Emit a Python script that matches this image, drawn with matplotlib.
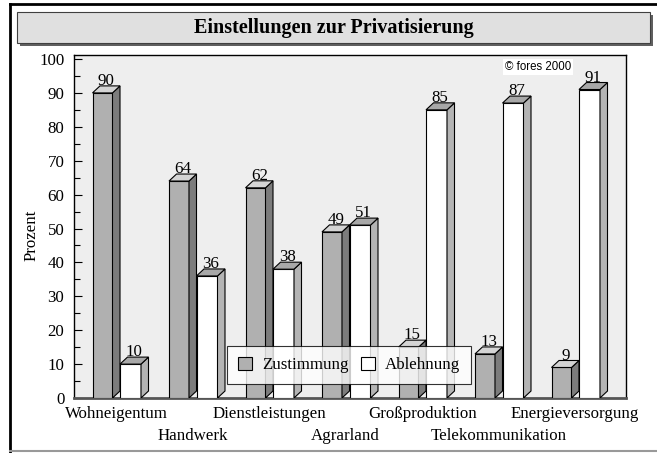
import matplotlib
matplotlib.use("Agg")
import matplotlib.pyplot as plt
from matplotlib.patches import Polygon, Rectangle
from matplotlib.ticker import MultipleLocator

categories = ["Wohneigentum", "Handwerk", "Dienstleistungen", "Agrarland",
              "Großproduktion", "Telekommunikation", "Energieversorgung"]
zustimmung = [90, 64, 62, 49, 15, 13, 9]
ablehnung = [10, 36, 38, 51, 85, 87, 91]
series_names = ["Zustimmung", "Ablehnung"]
title = "Einstellungen zur Privatisierung"
ylabel = "Prozent"
copyright_text = "© fores 2000"

W, H = 657, 453
fig = plt.figure(figsize=(W / 100, H / 100), dpi=100)
serif = "Liberation Serif"
fs = 12.2

# outer frame
fig.add_artist(plt.Line2D([10 / W, 10 / W], [1 - 4 / H, 1 - 452 / H], color="black", lw=2, transform=fig.transFigure))
fig.add_artist(plt.Line2D([10 / W, 1], [1 - 4 / H, 1 - 4 / H], color="black", lw=2, transform=fig.transFigure))
fig.add_artist(plt.Line2D([10 / W, 1], [1 - 451 / H, 1 - 451 / H], color="#999999", lw=1.5, transform=fig.transFigure))

# title box with shadow
bx0, by0, bx1, by1 = 17, 12, 650, 43
fig.add_artist(Rectangle(((bx0 + 3) / W, 1 - (by1 + 3) / H), (bx1 - bx0) / W, (by1 - by0) / H,
                         transform=fig.transFigure, facecolor="#606060", edgecolor="none"))
fig.add_artist(Rectangle((bx0 / W, 1 - by1 / H), (bx1 - bx0) / W, (by1 - by0) / H,
                         transform=fig.transFigure, facecolor="#e0e0e0", edgecolor="#404040", lw=0.8))
fig.text((bx0 + bx1) / 2 / W, 1 - 28 / H, title, ha="center", va="center",
         fontsize=14.5, fontweight="bold", family=serif)

# axes
ax_l, ax_r, ax_t, ax_b = 74, 626, 55, 398
ax = fig.add_axes([ax_l / W, 1 - ax_b / H, (ax_r - ax_l) / W, (ax_b - ax_t) / H])
ax.set_facecolor("#eeeeee")
px_per_group = 76.5
x0_px = 120
ax.set_xlim((ax_l - x0_px) / px_per_group, (ax_r - x0_px) / px_per_group)
py_per_unit = 339 / 100
ax.set_ylim(0, (ax_b - ax_t) / py_per_unit)

bw = 20 / px_per_group
bw2 = 21 / px_per_group
dx = 7.5 / px_per_group
dy = 7 / py_per_unit

def bar3d(x_left, width, h, front, side, top, label):
    ax.add_patch(Polygon([(x_left, 0), (x_left + width, 0), (x_left + width, h), (x_left, h)],
                         closed=True, facecolor=front, edgecolor="black", lw=0.8, zorder=3))
    ax.add_patch(Polygon([(x_left + width, 0), (x_left + width + dx, dy), (x_left + width + dx, h + dy),
                          (x_left + width, h)], closed=True, facecolor=side, edgecolor="black", lw=0.8, zorder=3))
    ax.add_patch(Polygon([(x_left, h), (x_left + width, h), (x_left + width + dx, h + dy), (x_left + dx, h + dy)],
                         closed=True, facecolor=top, edgecolor="black", lw=0.8, zorder=3))
    ax.text(x_left + (width + dx) / 2, h + dy - 0.9, label, ha="center", va="bottom",
            fontsize=fs, family=serif, zorder=4)

for i in range(len(categories)):
    zl = i - bw - dx
    bar3d(zl, bw, zustimmung[i], "#b0b0b0", "#7c7c7c", "#d4d4d4", str(zustimmung[i]))
    bar3d(i, bw2, ablehnung[i], "#ffffff", "#b4b4b4", "#a8a8a8", str(ablehnung[i]))

# axis ticks
ax.yaxis.set_major_locator(MultipleLocator(10))
ax.yaxis.set_minor_locator(MultipleLocator(5))
ax.tick_params(axis="y", which="major", direction="in", length=6, width=0.8, pad=7)
ax.tick_params(axis="y", which="minor", direction="in", length=4, width=0.8)
ax.set_yticks(range(0, 101, 10))
ax.set_yticklabels([str(v) for v in range(0, 101, 10)], family=serif, fontsize=fs)
ax.set_xticks([])
for s in ax.spines.values():
    s.set_linewidth(1.0)
ax.spines["bottom"].set_color("#555555")
ax.spines["bottom"].set_linewidth(2)
ax.set_ylabel(ylabel, family=serif, fontsize=fs)
ax.yaxis.set_label_coords((40 - ax_l) / (ax_r - ax_l), (ax_b - 235) / (ax_b - ax_t))

# category labels, alternating rows
for i, c in enumerate(categories):
    yoff = -16 if i % 2 == 0 else -38
    ax.annotate(c, xy=(i - 0.05, 0), xycoords="data", xytext=(0, yoff), textcoords="offset pixels",
                ha="center", va="center", fontsize=fs, family=serif)

# copyright
fig.text(538 / W, 1 - 67 / H, copyright_text, ha="center", va="center", fontsize=8.3,
         family="Liberation Sans", bbox=dict(facecolor="white", edgecolor="none", pad=1.5))

# legend
handles = [Rectangle((0, 0), 1, 1, facecolor="#b0b0b0", edgecolor="black", lw=0.8),
           Rectangle((0, 0), 1, 1, facecolor="white", edgecolor="black", lw=0.8)]
leg = ax.legend(handles, series_names, loc="center", bbox_to_anchor=(349 / W, 1 - 365 / H),
                bbox_transform=fig.transFigure, ncol=2, frameon=True, fancybox=False,
                prop={"family": serif, "size": fs}, handlelength=0.85, handleheight=0.85,
                handletextpad=0.6, columnspacing=0.7, borderpad=0.65)
leg.get_frame().set_edgecolor("black")
leg.get_frame().set_linewidth(0.8)
leg.set_zorder(10)

fig.savefig("out.png", dpi=100)
